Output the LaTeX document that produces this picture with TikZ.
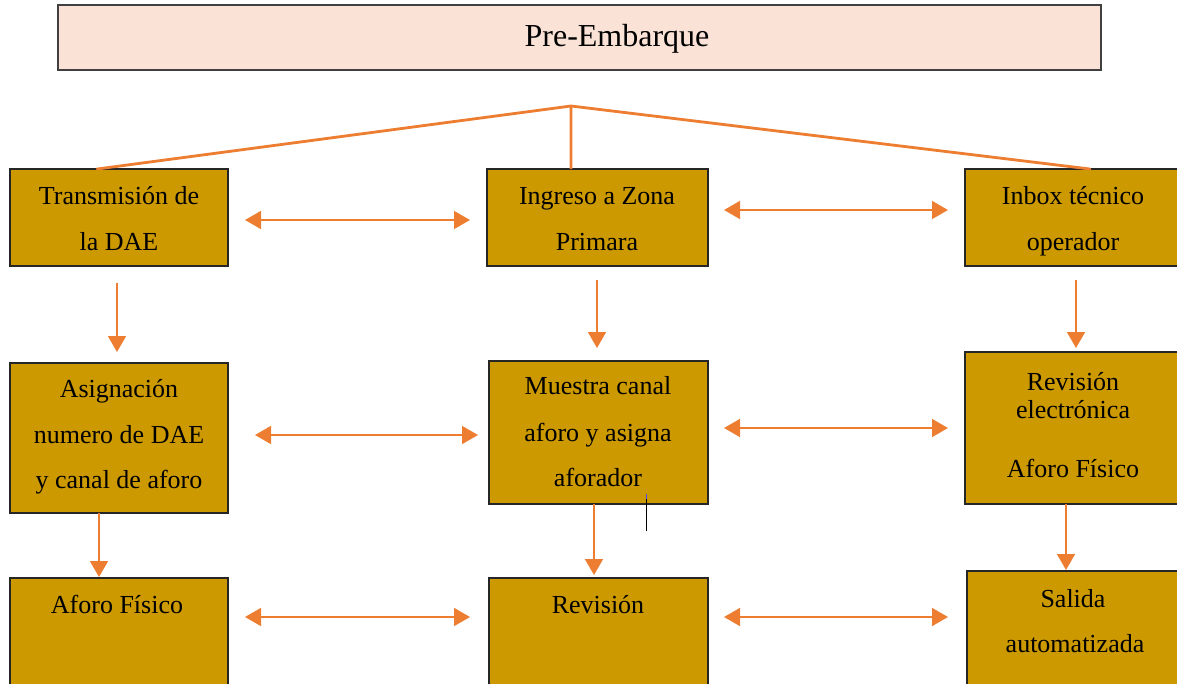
\documentclass[tikz,border=0pt]{standalone}
\usepackage{fontspec}
\setmainfont{Liberation Serif}
\usetikzlibrary{arrows.meta,calc}
\definecolor{linkorange}{HTML}{ED7D31}
\definecolor{stepgold}{HTML}{CC9900}
\definecolor{headfill}{HTML}{FAE3D6}
\begin{document}
\begin{tikzpicture}[x=1pt,y=-1pt,
  stepbox/.style={draw=black!85, line width=1.2pt, fill=stepgold,
    inner sep=0pt, outer sep=0pt, anchor=north west},
  headbox/.style={draw=black!75, line width=1.2pt, fill=headfill,
    inner sep=0pt, outer sep=0pt, anchor=north west},
  boxtext/.style={inner sep=0pt, text height=0.68em, text depth=0pt,
    yshift=-6pt, font=\fontsize{26}{30}\selectfont},
  trunk/.style={draw=linkorange, line width=2.8pt},
  flow/.style={draw=linkorange, line width=1.6pt, -{Triangle[length=16pt,width=18pt]}},
  biflow/.style={draw=linkorange, line width=1.6pt,
    {Triangle[length=16pt,width=18pt]}-{Triangle[length=16pt,width=18pt]}}]

\useasboundingbox (0,0) rectangle (1177,683);
\clip (0,0) rectangle (1177,683);

% header
\node[headbox, minimum width=1043pt, minimum height=65pt] (head) at (58,5) {};
\node[inner sep=0pt, text height=0.68em, text depth=0pt, yshift=-7pt,
  font=\fontsize{32}{36}\selectfont] (headtxt) at (617,36) {Pre-Embarque};

% row 1
\node[stepbox, minimum width=218pt, minimum height=97pt] (t1) at (10,169) {};
\node[stepbox, minimum width=221pt, minimum height=97pt] (t2) at (487,169) {};
\node[stepbox, minimum width=220pt, minimum height=97pt] (t3) at (965,169) {};
% row 2
\node[stepbox, minimum width=218pt, minimum height=150pt] (a1) at (10,363) {};
\node[stepbox, minimum width=219pt, minimum height=143pt] (a2) at (489,361) {};
\node[stepbox, minimum width=220pt, minimum height=152pt] (a3) at (965,352) {};
% row 3
\node[stepbox, minimum width=218pt, minimum height=130pt] (b1) at (10,578) {};
\node[stepbox, minimum width=219pt, minimum height=130pt] (b2) at (489,578) {};
\node[stepbox, minimum width=218pt, minimum height=137pt] (b3) at (967,571) {};

% box texts
\node[boxtext] (t1l1) at (119,195) {Transmisión de};
\node[boxtext] (t1l2) at (119,241) {la DAE};
\node[boxtext] (t2l1) at (597,195) {Ingreso a Zona};
\node[boxtext] (t2l2) at (597,241) {Primara};
\node[boxtext] (t3l1) at (1073,195) {Inbox técnico};
\node[boxtext] (t3l2) at (1073,241) {operador};

\node[boxtext] (a1l1) at (119,388) {Asignación};
\node[boxtext] (a1l2) at (119,434) {numero de DAE};
\node[boxtext] (a1l3) at (119,479) {y canal de aforo};
\node[boxtext] (a2l1) at (598,385) {Muestra canal};
\node[boxtext] (a2l2) at (598,432) {aforo y asigna};
\node[boxtext] (a2l3) at (598,477) {aforador};
\node[boxtext] (a3l1) at (1073,381) {Revisión};
\node[boxtext] (a3l2) at (1073,409) {electrónica};
\node[boxtext] (a3l3) at (1073,468) {Aforo Físico};

\node[boxtext] (b1l1) at (117,604) {Aforo Físico};
\node[boxtext] (b2l1) at (598,604) {Revisión};
\node[boxtext] (b3l1) at (1073,598) {Salida};
\node[boxtext] (b3l2) at (1075,643) {automatizada};

% branching from the header
\coordinate (apex) at (571,106);
\draw[trunk, line cap=round] ($(t1.north west)!0.4!(t1.north east)$) -- (apex)
  -- ($(t3.north west)!0.568!(t3.north east)$);
\draw[trunk] (apex) -- ($(t2.north west)!0.38!(t2.north east)$);

% horizontal links
\draw[biflow, shorten <=17pt, shorten >=17pt]
  ([yshift=-2.5pt]t1.east) -- ([yshift=-2.5pt]t2.west);
\draw[biflow, shorten <=16pt, shorten >=17pt]
  ([yshift=7.5pt]t2.east) -- ([yshift=7.5pt]t3.west);
\draw[biflow, shorten <=27pt, shorten >=11pt]
  ([yshift=3pt]a1.east) -- ([yshift=-2.5pt]a2.west);
\draw[biflow, shorten <=16pt, shorten >=17pt]
  ([yshift=4.5pt]a2.east) -- (a3.west);
\draw[biflow, shorten <=17pt, shorten >=19pt]
  ([yshift=26pt]b1.east) -- ([yshift=26pt]b2.west);
\draw[biflow, shorten <=16pt, shorten >=19pt]
  ([yshift=26pt]b2.east) -- ([yshift=22.5pt]b3.west);

% vertical links
\draw[flow, shorten <=17pt, shorten >=11pt] ([xshift=-2pt]t1.south) -- ([xshift=-2pt]a1.north);
\draw[flow, shorten <=14pt, shorten >=13pt] ([xshift=-0.5pt]t2.south) -- ([xshift=-1.5pt]a2.north);
\draw[flow, shorten <=14pt, shorten >=4pt] ([xshift=1pt]t3.south) -- ([xshift=1pt]a3.north);
\draw[flow, shorten >=1pt] ([xshift=-20pt]a1.south) -- ([xshift=-20pt]b1.north);
\draw[flow, shorten >=3pt] ([xshift=-4.5pt]a2.south) -- ([xshift=-4.5pt]b2.north);
\draw[flow, shorten >=1pt] ([xshift=-9pt]a3.south) -- ([xshift=-10pt]b3.north);

% text cursor mark
\draw[black, line width=1pt] (646,499) -- (646,531);
\draw[blue!70, line width=1pt] (646,494) -- (646,499);
\end{tikzpicture}
\end{document}
